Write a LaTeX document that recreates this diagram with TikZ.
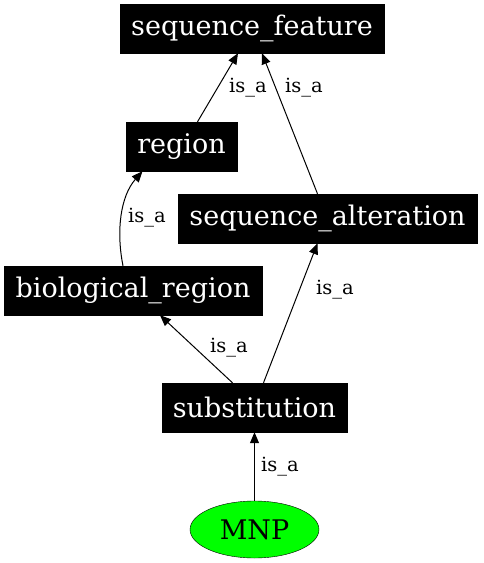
\documentclass[tikz,border=0pt]{standalone}
\usepackage{fontspec}
\setmainfont{DejaVu Serif}
\usepackage{tikz}
\usetikzlibrary{shapes, arrows.meta, positioning, calc}

\begin{document}
\begin{tikzpicture}[x=1pt, y=-1pt,
  term/.style={draw=black, fill=black, text=white, inner sep=0pt, minimum height=49pt, font=\fontsize{27}{32}\selectfont},
  isa/.style={-{Triangle[length=11pt, width=9pt]}, line width=1pt},
  lbl/.style={font=\fontsize{19.5}{23}\selectfont, inner sep=0pt}]
  \useasboundingbox (0,0) rectangle (483,563);

  % Terms
  \node[term, minimum width=264pt] (feature) at (252, 28.5) {sequence\_feature};
  \node[term, minimum width=111pt] (region) at (181.5, 146.5) {region};
  \node[term, minimum width=299pt] (alteration) at (327.5, 218.5) {sequence\_alteration};
  \node[term, minimum width=258pt] (bioregion) at (133, 290.5) {biological\_region};
  \node[term, minimum width=185pt] (substitution) at (254.5, 407.5) {substitution};

  % MNP
  \node[draw=black, fill=green, ellipse, minimum width=129pt, minimum height=57pt, inner sep=0pt, font=\fontsize{27}{32}\selectfont] (mnp) at (254.5, 529.5) {MNP};

  % Edges
  \draw[isa] ([xshift=16pt]region.north) -- ([xshift=-14pt]feature.south);
  \draw[isa] ([xshift=-10pt]alteration.north) -- ([xshift=10pt]feature.south);
  \draw[isa] ([xshift=-10pt]bioregion.north) .. controls +(-7,-35) and +(-22,25) .. ([xshift=-39pt]region.south);
  \draw[isa] ([xshift=-22pt]substitution.north) -- ([xshift=27pt]bioregion.south);
  \draw[isa] ([xshift=9pt]substitution.north) -- ([xshift=-10pt]alteration.south);
  \draw[isa] (mnp.north) -- (substitution.south);

  % Labels
  \node[lbl] (l1) at (248, 88) {is\_a};
  \node[lbl] (l2) at (304, 88) {is\_a};
  \node[lbl] (l3) at (147, 218) {is\_a};
  \node[lbl] (l4) at (335, 290) {is\_a};
  \node[lbl] (l5) at (229, 348) {is\_a};
  \node[lbl] (l6) at (280, 467) {is\_a};
\end{tikzpicture}
\end{document}
